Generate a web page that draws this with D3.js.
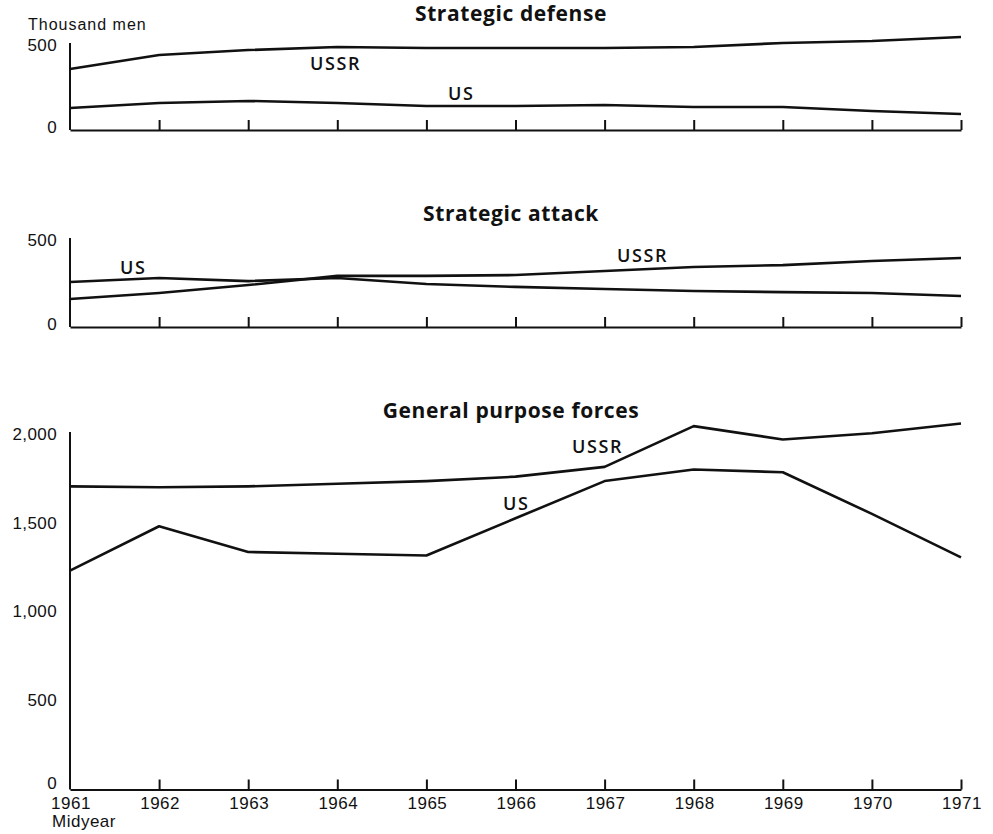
<!DOCTYPE html>
<html>
<head>
<meta charset="utf-8">
<script src="https://cdn.jsdelivr.net/npm/d3@7"></script>
<style>
  html, body { margin: 0; padding: 0; background: #fff; }
  svg { display: block; }
</style>
</head>
<body>
<svg id="chart" width="993" height="834"></svg>
<script>
// ---- Data (thousand men, midyear) ----
const years = [1961, 1962, 1963, 1964, 1965, 1966, 1967, 1968, 1969, 1970, 1971];

const defenseUSSR = [363, 446, 476, 494, 488, 488, 488, 494, 518, 530, 554];
const defenseUS   = [131, 161, 173, 161, 143, 143, 149, 137, 137, 113, 95];

const attackUSSR  = [163, 198, 244, 297, 297, 302, 326, 349, 360, 384, 401];
const attackUS    = [262, 285, 267, 285, 250, 233, 221, 209, 203, 198, 180];

const generalUSSR = [1710, 1705, 1710, 1725, 1740, 1765, 1820, 2050, 1975, 2010, 2065];
const generalUS   = [1235, 1485, 1340, 1330, 1320, 1530, 1740, 1805, 1790, 1555, 1310];

const smallTicks   = [0, 500];
const generalTicks = [0, 500, 1000, 1500, 2000];

const panelTitles = ["Strategic defense", "Strategic attack", "General purpose forces"];
const unitLabel = "Thousand men";
const xAxisNote = "Midyear";

// ---- Layout ----
const svg = d3.select("#chart");
const x = d3.scaleLinear().domain([1961, 1971]).range([70, 961]);

const panels = [
  { title: panelTitles[0], ussr: defenseUSSR, us: defenseUS, ticks: smallTicks, max: 500,
    y0: 130, y1: 46, axisTop: 43, titleY: 21,
    ussrLabel: [310, 70], usLabel: [448, 100], showYears: false },
  { title: panelTitles[1], ussr: attackUSSR, us: attackUS, ticks: smallTicks, max: 500,
    y0: 327, y1: 241, axisTop: 238, titleY: 221,
    ussrLabel: [617, 262], usLabel: [120, 274], showYears: false },
  { title: panelTitles[2], ussr: generalUSSR, us: generalUS, ticks: generalTicks, max: 2000,
    y0: 789.5, y1: 435, axisTop: 432, titleY: 418,
    ussrLabel: [572, 453], usLabel: [503, 510], showYears: true }
];

const fmt = d3.format(",");

panels.forEach(p => {
  const y = d3.scaleLinear().domain([0, p.max]).range([p.y0, p.y1]);
  const g = svg.append("g");

  // Title
  g.append("text")
    .attr("x", 511).attr("y", p.titleY)
    .attr("text-anchor", "middle")
    .attr("font-family", "'Open Sans', sans-serif")
    .attr("font-weight", 700)
    .attr("font-size", 21)
    .attr("letter-spacing", 0.6)
    .attr("fill", "#111")
    .text(p.title);

  // Y axis line
  g.append("line")
    .attr("x1", x(1961)).attr("x2", x(1961))
    .attr("y1", p.axisTop).attr("y2", p.y0)
    .attr("stroke", "#111").attr("stroke-width", 2);

  // Y tick labels (the zero label sits a little above the baseline)
  g.selectAll("text.ytick").data(p.ticks).join("text")
    .attr("class", "ytick")
    .attr("x", 57)
    .attr("y", d => y(d) - 1 - (d === 0 ? (p.showYears ? 6 : 2) : 0))
    .attr("dy", "0.36em")
    .attr("text-anchor", "end")
    .attr("font-family", "'Liberation Sans', Arial, sans-serif")
    .attr("font-size", 17)
    .attr("letter-spacing", 0.4)
    .attr("fill", "#111")
    .text(d => fmt(d));

  // X axis with upward ticks
  const xAxis = d3.axisTop(x)
    .tickValues(years.slice(1))
    .tickSize(10)
    .tickSizeOuter(0)
    .tickFormat("");
  const ax = g.append("g").attr("transform", `translate(0,${p.y0})`).call(xAxis);
  ax.select(".domain").attr("stroke", "#111").attr("stroke-width", 2);
  ax.selectAll(".tick line").attr("stroke", "#111").attr("stroke-width", 2);

  if (p.showYears) {
    g.selectAll("text.xtick").data(years).join("text")
      .attr("class", "xtick")
      .attr("x", d => x(d) + 1).attr("y", p.y0 + 19)
      .attr("text-anchor", "middle")
      .attr("font-family", "'Liberation Sans', Arial, sans-serif")
      .attr("font-size", 17)
      .attr("letter-spacing", 0.5)
      .attr("fill", "#111")
      .text(d => d);
  }

  // Series lines
  const line = d3.line().x((d, i) => x(years[i])).y(d => y(d));
  [p.ussr, p.us].forEach(series => {
    g.append("path")
      .datum(series)
      .attr("d", line)
      .attr("fill", "none")
      .attr("stroke", "#111")
      .attr("stroke-width", 2.6)
      .attr("stroke-linejoin", "round");
  });

  // Series labels
  const labelStyle = sel => sel
    .attr("font-family", "'Open Sans', sans-serif")
    .attr("font-weight", 600)
    .attr("font-size", 18)
    .attr("letter-spacing", 1.6)
    .attr("fill", "#111");
  g.append("text").attr("x", p.ussrLabel[0]).attr("y", p.ussrLabel[1]).call(labelStyle).text("USSR");
  g.append("text").attr("x", p.usLabel[0]).attr("y", p.usLabel[1]).call(labelStyle).text("US");
});

// Unit label and x note
svg.append("text")
  .attr("x", 28).attr("y", 30)
  .attr("font-family", "'Liberation Sans', Arial, sans-serif")
  .attr("font-size", 16)
  .attr("letter-spacing", 1)
  .attr("fill", "#111")
  .text(unitLabel);

svg.append("text")
  .attr("x", 52).attr("y", 827)
  .attr("font-family", "'Liberation Sans', Arial, sans-serif")
  .attr("font-size", 17)
  .attr("letter-spacing", 0.5)
  .attr("fill", "#111")
  .text(xAxisNote);
</script>
</body>
</html>
